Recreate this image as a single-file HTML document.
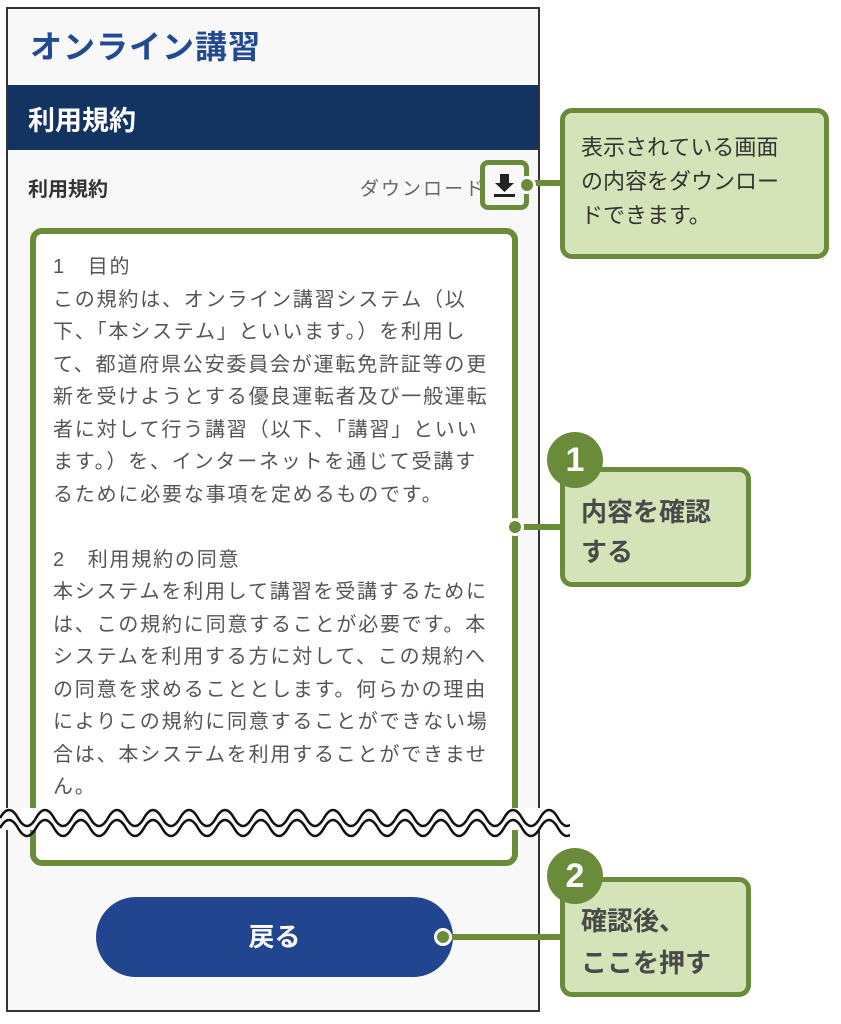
<!DOCTYPE html>
<html><head><meta charset="utf-8"><style>
*{margin:0;padding:0;box-sizing:border-box}
body{width:841px;height:1024px;background:#fff;position:relative;overflow:hidden;font-family:"Liberation Sans","Noto Sans CJK JP",sans-serif}
.a{position:absolute}
.frame{left:6px;top:7px;width:534px;height:1005px;border:2px solid #333;background:#f8f8f8}
.title{left:30px;top:22px;font-size:32px;font-weight:bold;color:#224a92;letter-spacing:1px}
.band{left:8px;top:85px;width:530px;height:65px;background:#133361;color:#fff;font-size:27px;font-weight:bold;padding:14px 0 0 20px}
.lbl{left:28px;top:173px;font-size:20px;font-weight:bold;color:#333}
.dl{left:360px;top:174px;font-size:19px;color:#666;letter-spacing:2px}
.dlbox{left:480px;top:160px;width:49px;height:50px;border:5px solid #6a8c3a;border-radius:8px;background:#f8f8f8}
.tb{left:30px;top:228px;width:488px;height:638px;border:6px solid #6a8c3a;border-radius:12px;background:#fff}
.txt{left:53px;top:251px;font-size:20px;line-height:32.5px;color:#555;letter-spacing:1.8px;white-space:nowrap}
.box{background:#d4e4b8;border:5px solid #6a8c3a;border-radius:12px;color:#4a4a4a;font-weight:bold;white-space:nowrap}
.badge{width:56px;height:56px;border-radius:50%;background:#6a8c3a;color:#fff;font-size:34px;font-weight:bold;text-align:center;line-height:56px}
.btn{left:96px;top:897px;width:357px;height:80px;border-radius:40px;background:#22458f;color:#fff;font-size:26px;font-weight:bold;text-align:center;line-height:80px}
.line{background:#6a8c3a;height:6px}
.dot{width:18px;height:18px;border-radius:50%;background:#6a8c3a;border:3px solid #fff}
</style></head><body>
<div class="a frame"></div>
<div class="a title">オンライン講習</div>
<div class="a band">利用規約</div>
<div class="a lbl">利用規約</div>
<div class="a dl">ダウンロード</div>
<div class="a dlbox"><svg width="39" height="40" viewBox="0 0 39 40"><path d="M15 9h9v9h5l-9.5 9-9.5-9h5z" fill="#222"/><rect x="9" y="29" width="21" height="3" fill="#222"/></svg></div>
<div class="a tb"></div>
<div class="a txt">1　目的<br>この規約は、オンライン講習システム（以<br>下、「本システム」といいます。）を利用し<br>て、都道府県公安委員会が運転免許証等の更<br>新を受けようとする優良運転者及び一般運転<br>者に対して行う講習（以下、「講習」といい<br>ます。）を、インターネットを通じて受講す<br>るために必要な事項を定めるものです。<br><br>2　利用規約の同意<br>本システムを利用して講習を受講するために<br>は、この規約に同意することが必要です。本<br>システムを利用する方に対して、この規約へ<br>の同意を求めることとします。何らかの理由<br>によりこの規約に同意することができない場<br>合は、本システムを利用することができませ<br>ん。</div>
<svg class="a" style="left:0;top:800px" width="570" height="40" viewBox="0 0 570 40">
<rect x="0" y="8" width="570" height="22" fill="#fff"/>
<path fill="none" stroke="#111" stroke-width="2.5" d="M0,18 Q9,2 18,18 T36,18 T54,18 T72,18 T90,18 T108,18 T126,18 T144,18 T162,18 T180,18 T198,18 T216,18 T234,18 T252,18 T270,18 T288,18 T306,18 T324,18 T342,18 T360,18 T378,18 T396,18 T414,18 T432,18 T450,18 T468,18 T486,18 T504,18 T522,18 T540,18 T558,18 T576,18"/>
<path fill="none" stroke="#111" stroke-width="2.5" d="M0,28 Q9,12 18,28 T36,28 T54,28 T72,28 T90,28 T108,28 T126,28 T144,28 T162,28 T180,28 T198,28 T216,28 T234,28 T252,28 T270,28 T288,28 T306,28 T324,28 T342,28 T360,28 T378,28 T396,28 T414,28 T432,28 T450,28 T468,28 T486,28 T504,28 T522,28 T540,28 T558,28 T576,28"/>
</svg>
<div class="a btn">戻る</div>
<div class="a line" style="left:527px;top:180px;width:36px"></div>
<div class="a dot" style="left:518px;top:176px"></div>
<div class="a box" style="left:560px;top:108px;width:269px;height:151px;padding:18px 0 0 16px;font-size:22px;font-weight:normal;color:#333;line-height:34px">表示されている画面<br>の内容をダウンロー<br>ドできます。</div>
<div class="a line" style="left:515px;top:524px;width:48px"></div>
<div class="a dot" style="left:506px;top:518px"></div>
<div class="a box" style="left:560px;top:467px;width:191px;height:120px;padding:20px 0 0 16px;font-size:26px;line-height:40px">内容を確認<br>する</div>
<div class="a badge" style="left:547px;top:432px">1</div>
<div class="a line" style="left:445px;top:934px;width:118px"></div>
<div class="a dot" style="left:434px;top:928px"></div>
<div class="a box" style="left:560px;top:877px;width:191px;height:120px;padding:18px 0 0 16px;font-size:26px;line-height:42px">確認後、<br>ここを押す</div>
<div class="a badge" style="left:547px;top:848px">2</div>
</body></html>
